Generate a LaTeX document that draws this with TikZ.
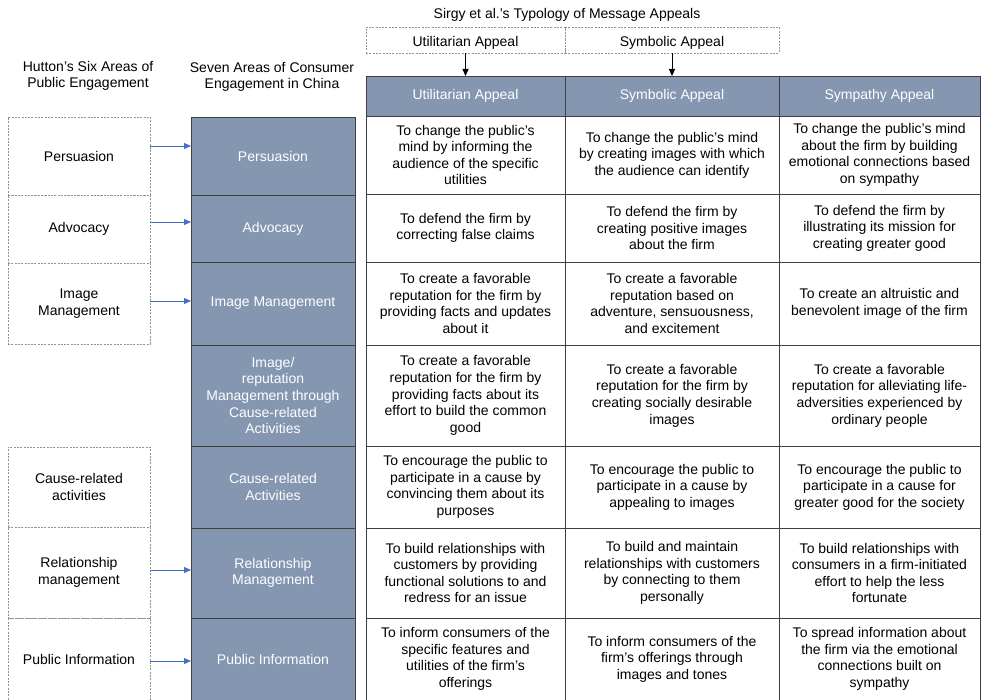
\documentclass[tikz,border=0pt]{standalone}
\usepackage{fontspec}
\setmainfont{Liberation Sans}
\usetikzlibrary{arrows.meta}
\definecolor{slate}{RGB}{132,150,176}
\definecolor{edge}{RGB}{64,64,64}
\definecolor{arrowblue}{RGB}{68,114,196}
\tikzset{
  cellbase/.style={draw=edge,line width=0.7pt,inner sep=0pt,outer sep=0pt,align=center,
    font=\fontsize{14}{16.6}\selectfont,text=black},
  darkcell/.style={fill=slate,text=white},
  dashcell/.style={draw=gray!85,line width=0.6pt,dash pattern=on 2pt off 1.3pt},
  bluearrow/.style={draw=arrowblue,line width=0.8pt,-{Triangle[length=7pt,width=6pt]}},
  blackarrow/.style={draw=black,line width=0.8pt,-{Triangle[length=7pt,width=6pt]}},
  labeltext/.style={align=center,font=\fontsize{14}{16.6}\selectfont,text=black,inner sep=0pt}
}
\newcommand\cellbox[7][]{%
  \node[cellbase,#1,minimum width={(#5-#3)*1pt},minimum height={(#6-#4)*1pt}]
    (#2) at ({(#3+#5)/2},{(#4+#6)/2}) {#7};}
\newcommand\lowered[1]{\raisebox{-3.5pt}[10pt][3pt]{#1}}
\begin{document}
\begin{tikzpicture}[x=1pt,y=-1pt]
\useasboundingbox (0,0) rectangle (981,700);
% titles
\node[labeltext] (title) at (567,15) {Sirgy et al.’s Typology of Message Appeals};
\node[labeltext] (hutton) at (88,76) {Hutton’s Six Areas of\\Public Engagement};
\node[labeltext] (seven) at (272,77) {Seven Areas of Consumer\\Engagement in China};
% top dashed boxes
\cellbox[dashcell]{tu}{366}{27}{565}{53}{\lowered{Utilitarian Appeal}}
\cellbox[dashcell]{ts}{565}{27}{779}{53}{\lowered{Symbolic Appeal}}
% header
\cellbox[darkcell]{hu}{366}{76}{565}{116}{Utilitarian Appeal}
\cellbox[darkcell]{hs}{565}{76}{779}{116}{Symbolic Appeal}
\cellbox[darkcell]{hy}{779}{76}{980}{116}{Sympathy Appeal}
\draw[blackarrow] (tu.south) -- (hu.north);
\draw[blackarrow] (ts.south) -- (hs.north);
% seven areas column
\cellbox[darkcell]{s1}{191}{117}{355}{195}{Persuasion}
\cellbox[darkcell]{s2}{191}{195}{355}{262}{Advocacy}
\cellbox[darkcell]{s3}{191}{262}{355}{345}{Image Management}
\cellbox[darkcell]{s4}{191}{345}{355}{446}{Image/\\reputation\\Management through\\Cause-related\\Activities}
\cellbox[darkcell]{s5}{191}{446}{355}{528}{Cause-related\\Activities}
\cellbox[darkcell]{s6}{191}{528}{355}{618}{Relationship\\Management}
\cellbox[darkcell]{s7}{191}{618}{355}{700}{Public Information}
% hutton column
\cellbox[dashcell]{h1}{8}{117}{150}{195}{Persuasion}
\cellbox[dashcell]{h2}{8}{195}{150}{263}{Advocacy}
\cellbox[dashcell]{h3}{8}{263}{150}{344}{Image\\Management}
\cellbox[dashcell]{h5}{8}{447}{150}{527}{Cause-related\\activities}
\cellbox[dashcell]{h6}{8}{527}{150}{618}{Relationship\\management}
\cellbox[dashcell]{h7}{8}{618}{150}{700}{Public Information}
\draw[bluearrow] ([yshift=10pt]h1.east) -- ([yshift=10pt]h1.east -| s1.west);
\draw[bluearrow] ([yshift=7pt]h2.east) -- ([yshift=7pt]h2.east -| s2.west);
\draw[bluearrow] ([yshift=2.5pt]h3.east) -- ([yshift=2.5pt]h3.east -| s3.west);
\draw[bluearrow] ([yshift=2.5pt]h6.east) -- ([yshift=2.5pt]h6.east -| s6.west);
\draw[bluearrow] ([yshift=-2pt]h7.east) -- ([yshift=-2pt]h7.east -| s7.west);
% table body
\cellbox{a1}{366}{116}{565}{194}{To change the public’s\\mind by informing the\\audience of the specific\\utilities}
\cellbox{b1}{565}{116}{779}{194}{To change the public’s mind\\by creating images with which\\the audience can identify}
\cellbox{c1}{779}{116}{980}{194}{To change the public’s mind\\about the firm by building\\emotional connections based\\on sympathy}
\cellbox{a2}{366}{194}{565}{262}{To defend the firm by\\correcting false claims}
\cellbox{b2}{565}{194}{779}{262}{To defend the firm by\\creating positive images\\about the firm}
\cellbox{c2}{779}{194}{980}{262}{To defend the firm by\\illustrating its mission for\\creating greater good}
\cellbox{a3}{366}{262}{565}{345}{To create a favorable\\reputation for the firm by\\providing facts and updates\\about it}
\cellbox{b3}{565}{262}{779}{345}{To create a favorable\\reputation based on\\adventure, sensuousness,\\and excitement}
\cellbox{c3}{779}{262}{980}{345}{To create an altruistic and\\benevolent image of the firm}
\cellbox{a4}{366}{345}{565}{446}{To create a favorable\\reputation for the firm by\\providing facts about its\\effort to build the common\\good}
\cellbox{b4}{565}{345}{779}{446}{To create a favorable\\reputation for the firm by\\creating socially desirable\\images}
\cellbox{c4}{779}{345}{980}{446}{To create a favorable\\reputation for alleviating life-\\adversities experienced by\\ordinary people}
\cellbox{a5}{366}{446}{565}{528}{To encourage the public to\\participate in a cause by\\convincing them about its\\purposes}
\cellbox{b5}{565}{446}{779}{528}{To encourage the public to\\participate in a cause by\\appealing to images}
\cellbox{c5}{779}{446}{980}{528}{To encourage the public to\\participate in a cause for\\greater good for the society}
\cellbox{a6}{366}{528}{565}{618}{To build relationships with\\customers by providing\\functional solutions to and\\redress for an issue}
\cellbox{b6}{565}{528}{779}{618}{To build and maintain\\relationships with customers\\by connecting to them\\personally}
\cellbox{c6}{779}{528}{980}{618}{To build relationships with\\consumers in a firm-initiated\\effort to help the less\\fortunate}
\cellbox{a7}{366}{618}{565}{700}{To inform consumers of the\\specific features and\\utilities of the firm’s\\offerings}
\cellbox{b7}{565}{618}{779}{700}{To inform consumers of the\\firm’s offerings through\\images and tones}
\cellbox{c7}{779}{618}{980}{700}{To spread information about\\the firm via the emotional\\connections built on\\sympathy}
\end{tikzpicture}
\end{document}
